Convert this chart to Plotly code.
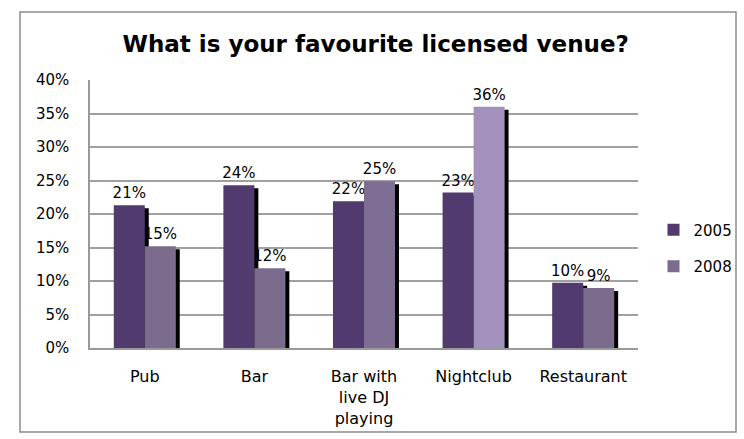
import plotly.graph_objects as go

categories = ["Pub", "Bar", "Bar with<br>live DJ<br>playing", "Nightclub", "Restaurant"]
series_names = ["2005", "2008"]
values_2005 = [0.213, 0.243, 0.219, 0.232, 0.0975]
values_2008 = [0.152, 0.119, 0.249, 0.360, 0.0896]
colors_2005 = ["#503A6E", "#503A6E", "#503A6E", "#503A6E", "#503A6E"]
colors_2008 = ["#7B6C8E", "#7B6C8E", "#7F6E93", "#A391BD", "#7B6C8E"]
y_ticks = [0, 0.05, 0.10, 0.15, 0.20, 0.25, 0.30, 0.35, 0.40]

W, H = 744, 439
L, R, T, B = 90, 638, 80, 348
font_family = "'DejaVu Sans', sans-serif"

bar_w = 0.283
shadow_dx = 0.036
shadow_dy = 0.0045

fig = go.Figure()

for vals, cols, name, off in [(values_2005, colors_2005, "2005", -bar_w),
                              (values_2008, colors_2008, "2008", 0.0)]:
    fig.add_trace(go.Bar(
        x=categories, y=[v - shadow_dy for v in vals],
        offset=off + shadow_dx, width=bar_w,
        marker=dict(color="black", line=dict(width=0)),
        showlegend=False, hoverinfo="skip",
    ))
    fig.add_trace(go.Bar(
        x=categories, y=vals, name=name, legendgroup=name,
        offset=off, width=bar_w,
        marker=dict(color=cols, line=dict(width=0)),
        text=vals, texttemplate="%{y:.0%}", textposition="outside",
        constraintext="none",
        textfont=dict(family=font_family, size=15, color="black"),
        cliponaxis=False,
    ))

fig.update_layout(
    width=W, height=H,
    margin=dict(l=L, r=W - R, t=T, b=H - B, autoexpand=False),
    barmode="overlay",
    paper_bgcolor="white", plot_bgcolor="white",
    font=dict(family=font_family, size=15, color="black"),
    title=dict(text="<b>What is your favourite licensed venue?</b>",
               x=0.505, xanchor="center", y=1 - 44 / H, yanchor="middle",
               font=dict(size=23, family=font_family, color="black")),
    legend=dict(x=(653.5 - L) / (R - L), xanchor="left",
                y=(B - 248) / (B - T), yanchor="middle",
                font=dict(size=15, family=font_family),
                tracegroupgap=14, bgcolor="rgba(0,0,0,0)"),
    xaxis=dict(showgrid=False, showline=True, linecolor="#999999", linewidth=1.5,
               ticks="", tickfont=dict(size=16), ticklabelstandoff=13,
               automargin=False),
    yaxis=dict(range=[0, 0.40], tickvals=y_ticks, tickformat=".0%",
               showgrid=True, gridcolor="#A0A0A0", gridwidth=1.5,
               showline=True, linecolor="#999999", linewidth=1.5,
               ticks="", tickfont=dict(size=15), ticklabelstandoff=16,
               zeroline=False, automargin=False),
    shapes=[dict(type="rect", xref="paper", yref="paper",
                 x0=(20 - L) / (R - L), x1=(736 - L) / (R - L),
                 y0=(B - 432) / (B - T), y1=(B - 12) / (B - T),
                 line=dict(color="#8C8C8C", width=1.5), layer="below")],
)

fig.write_html("out.html")
